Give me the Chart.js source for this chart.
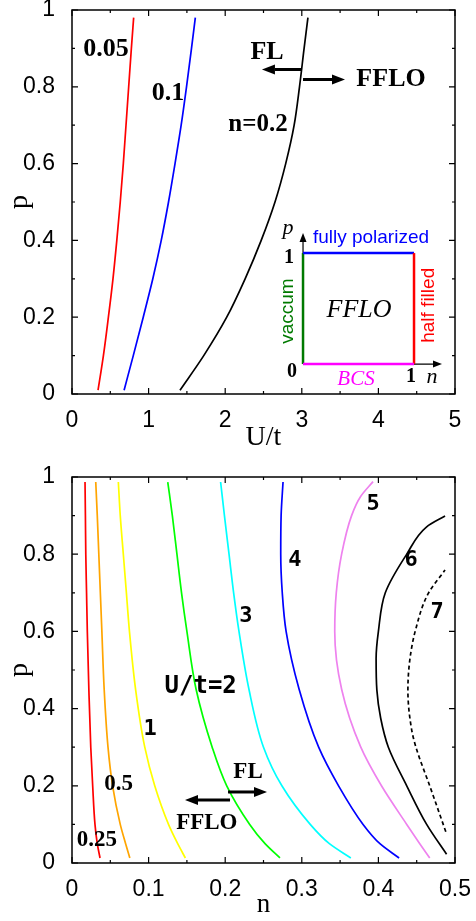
<!DOCTYPE html>
<html lang="en">
<head>
<meta charset="UTF-8">
<title>FFLO phase boundaries</title>
<script src="https://cdn.jsdelivr.net/npm/chart.js@4"></script>
<style>
  html, body { margin: 0; padding: 0; background: #fff; }
  .panel { position: absolute; left: 0; width: 476px; }
</style>
</head>
<body>
<div class="panel" style="top:0;height:460px"><canvas id="topChart" width="476" height="460"></canvas></div>
<div class="panel" style="top:460px;height:461px"><canvas id="bottomChart" width="476" height="461"></canvas></div>
<script>
// ---- top panel: polarization p against U/t at fixed density n ----
const pTop   = [0.01, 0.1, 0.2, 0.3, 0.4, 0.5, 0.6, 0.7, 0.8, 0.9, 0.98];
const uN005  = [0.34, 0.41, 0.475, 0.535, 0.585, 0.63, 0.67, 0.705, 0.74, 0.775, 0.805];
const uN01   = [0.68, 0.80, 0.93, 1.055, 1.165, 1.26, 1.345, 1.425, 1.495, 1.56, 1.61];
const uN02   = [1.41, 1.72, 2.02, 2.26, 2.47, 2.65, 2.79, 2.90, 2.97, 3.03, 3.08];
const topXLabels = ['0', '1', '2', '3', '4', '5'];

// ---- bottom panel: p against n at fixed U/t ----
const pBottom = [0.013, 0.05, 0.1, 0.2, 0.3, 0.45, 0.6, 0.7, 0.8, 0.9, 0.987];
const nU025 = [0.0366, 0.033, 0.030, 0.027, 0.0245, 0.022, 0.020, 0.019, 0.018, 0.0175, 0.017];
const nU05  = [0.0755, 0.070, 0.063, 0.053, 0.047, 0.042, 0.039, 0.037, 0.035, 0.033, 0.031];
const nU1   = [0.148, 0.138, 0.126, 0.108, 0.095, 0.083, 0.075, 0.071, 0.067, 0.063, 0.0605];
const nU2   = [0.2715, 0.252, 0.232, 0.202, 0.183, 0.162, 0.150, 0.143, 0.137, 0.131, 0.125];
const nU3   = [0.364, 0.336, 0.311, 0.274, 0.250, 0.231, 0.218, 0.211, 0.205, 0.199, 0.194];
const nU4   = [0.427, 0.402, 0.380, 0.348, 0.322, 0.2965, 0.2795, 0.2745, 0.2725, 0.273, 0.2755];
const pU5   = [0.013, 0.05, 0.1, 0.2, 0.3, 0.45, 0.6, 0.7, 0.8, 0.9, 0.95, 0.988];
const nU5   = [0.467, 0.454, 0.437, 0.404, 0.377, 0.352, 0.343, 0.345, 0.352, 0.365, 0.377, 0.393];
const pU6   = [0.0225, 0.1, 0.2, 0.3, 0.375, 0.448, 0.53, 0.6, 0.7, 0.8, 0.871, 0.899];
const nU6   = [0.489, 0.463, 0.437, 0.413, 0.403, 0.398, 0.397, 0.400, 0.409, 0.437, 0.463, 0.487];
const pU7   = [0.081, 0.2, 0.3, 0.35, 0.448, 0.526, 0.6, 0.698, 0.759];
const nU7   = [0.488, 0.467, 0.449, 0.443, 0.4385, 0.441, 0.448, 0.465, 0.487];
const bottomXLabels = ['0', '0.1', '0.2', '0.3', '0.4', '0.5'];
const yLabels = ['0', '0.2', '0.4', '0.6', '0.8', '1'];

const tickFont = { family: '"Liberation Sans", Arial, sans-serif', size: 23 };
const SERIF = '"Liberation Serif", "Times New Roman", serif';
const SANS = '"Liberation Sans", Arial, sans-serif';
const MONO = '"DejaVu Sans Mono", monospace';

// every curve is ordered by increasing p, so p is used as the index axis
function series(xs, ys, color, dash) {
  return {
    data: xs.map((v, i) => ({ x: v, y: ys[i] })),
    borderColor: color,
    borderWidth: 1.7,
    borderDash: dash || [],
    pointRadius: 0,
    showLine: true,
    fill: false,
    cubicInterpolationMode: 'monotone'
  };
}

// pin the axis box sizes so the plot area lands where the original has it
function fixSize(prop, px) {
  return function (scale) {
    scale[prop] = px;
    scale.paddingLeft = scale.paddingRight = scale.paddingTop = scale.paddingBottom = 0;
  };
}

function arrow(ctx, x1, y1, x2, y2, lw, head, half) {
  const ang = Math.atan2(y2 - y1, x2 - x1);
  const bx = x2 - head * Math.cos(ang), by = y2 - head * Math.sin(ang);
  ctx.lineWidth = lw;
  ctx.beginPath(); ctx.moveTo(x1, y1); ctx.lineTo(bx, by); ctx.stroke();
  ctx.beginPath();
  ctx.moveTo(x2, y2);
  ctx.lineTo(bx + half * Math.sin(ang), by - half * Math.cos(ang));
  ctx.lineTo(bx - half * Math.sin(ang), by + half * Math.cos(ang));
  ctx.closePath(); ctx.fill();
}

// frame, inward ticks, text labels, arrows and the small inset
const notesPlugin = {
  id: 'notes',
  afterDatasetsDraw(chart, args, opts) {
    const { ctx, chartArea: a, scales: { x, y } } = chart;
    const px = v => x.getPixelForValue(v), py = v => y.getPixelForValue(v);
    ctx.save();
    ctx.strokeStyle = '#000'; ctx.fillStyle = '#000'; ctx.lineWidth = 1.5;
    ctx.strokeRect(a.left, a.top, a.right - a.left, a.bottom - a.top);

    ctx.lineWidth = 1.2;
    ctx.beginPath();
    for (let i = 0; i <= opts.xMinorCount; i++) {
      const v = x.min + (x.max - x.min) * i / opts.xMinorCount;
      const len = i % 2 === 0 ? 6 : 3;
      ctx.moveTo(px(v), a.bottom); ctx.lineTo(px(v), a.bottom - len);
      ctx.moveTo(px(v), a.top); ctx.lineTo(px(v), a.top + len);
    }
    for (let i = 0; i <= 10; i++) {
      const v = i / 10;
      const len = i % 2 === 0 ? 6 : 3;
      ctx.moveTo(a.left, py(v)); ctx.lineTo(a.left + len, py(v));
      ctx.moveTo(a.right, py(v)); ctx.lineTo(a.right - len, py(v));
    }
    ctx.stroke();

    (opts.arrows || []).forEach(ar => {
      ctx.strokeStyle = '#000'; ctx.fillStyle = '#000';
      arrow(ctx, px(ar.from[0]), py(ar.from[1]), px(ar.to[0]), py(ar.to[1]), 3, 13, 5);
    });

    if (opts.inset) {
      const s = opts.inset;
      const x0 = px(s.origin[0]), y0 = py(s.origin[1]);
      const x1 = px(s.corner[0]), y1 = py(s.corner[1]);
      ctx.strokeStyle = '#000'; ctx.fillStyle = '#000';
      arrow(ctx, x0, y0, x0, py(s.pTip), 1.2, 9, 3.5);
      arrow(ctx, x0, y0, px(s.nTip), y0, 1.2, 9, 3.5);
      ctx.lineWidth = 2.5;
      const side = (c, ax, ay, bx, by) => {
        ctx.strokeStyle = c; ctx.beginPath(); ctx.moveTo(ax, ay); ctx.lineTo(bx, by); ctx.stroke();
      };
      side('#007a00', x0, y0, x0, y1);
      side('#0000ff', x0, y1, x1, y1);
      side('#ff0000', x1, y1, x1, y0);
      side('#ff00ff', x0, y0, x1, y0);
    }

    ctx.textAlign = 'center'; ctx.textBaseline = 'middle';
    (opts.texts || []).forEach(t => {
      ctx.save();
      ctx.translate(px(t.at[0]), py(t.at[1]));
      if (t.rot) ctx.rotate(t.rot);
      ctx.font = t.font; ctx.fillStyle = t.color || '#000';
      ctx.fillText(t.text, 0, 0);
      ctx.restore();
    });
    ctx.restore();
  }
};

function makeChart(id, datasets, cfg) {
  return new Chart(document.getElementById(id), {
    type: 'scatter',
    data: { datasets },
    plugins: [notesPlugin],
    options: {
      indexAxis: 'y',
      responsive: false,
      animation: false,
      events: [],
      layout: { autoPadding: false, padding: { left: 0, right: 21, top: cfg.top, bottom: 0 } },
      plugins: { legend: { display: false }, tooltip: { enabled: false }, notes: cfg.notes },
      scales: {
        x: {
          type: 'linear', position: 'bottom', min: 0, max: cfg.xMax,
          afterFit: fixSize('height', cfg.xHeight),
          grid: { display: false, drawTicks: false },
          border: { display: false },
          ticks: {
            stepSize: cfg.xMax / 5, padding: 13, color: '#000', font: tickFont,
            maxRotation: 0, autoSkip: false, callback: (v, i) => cfg.xLabels[i]
          },
          title: {
            display: true, text: cfg.xTitle, color: '#000',
            font: { family: SERIF, size: cfg.xTitleSize }, padding: { top: 0, bottom: cfg.xTitlePad }
          }
        },
        y: {
          type: 'linear', position: 'left', min: 0, max: 1,
          afterFit: fixSize('width', 72),
          grid: { display: false, drawTicks: false },
          border: { display: false },
          ticks: {
            stepSize: 0.2, padding: 17, color: '#000', font: tickFont,
            autoSkip: false, callback: (v, i) => yLabels[i]
          },
          title: {
            display: true, text: 'p', color: '#000',
            font: { family: SERIF, size: 28 }, padding: { top: 3, bottom: 0 }
          }
        }
      }
    }
  });
}

makeChart('topChart', [
  series(uN005, pTop, '#ff0000'),
  series(uN01, pTop, '#0000ff'),
  series(uN02, pTop, '#000000')
], {
  top: 10, xMax: 5, xHeight: 66, xLabels: topXLabels,
  xTitle: 'U/t', xTitleSize: 28, xTitlePad: 6,
  notes: {
    xMinorCount: 10,
    texts: [
      { text: '0.05', at: [0.444, 0.897], font: 'bold 26px ' + SERIF },
      { text: '0.1', at: [1.253, 0.783], font: 'bold 26px ' + SERIF },
      { text: 'n=0.2', at: [2.428, 0.702], font: 'bold 25px ' + SERIF },
      { text: 'FL', at: [2.546, 0.889], font: 'bold 26px ' + SERIF },
      { text: 'FFLO', at: [4.165, 0.819], font: 'bold 26px ' + SERIF },
      { text: 'p', at: [2.82, 0.432], font: 'italic 22px ' + SERIF },
      { text: 'fully polarized', at: [3.903, 0.406], font: '19px ' + SANS, color: '#0000ff' },
      { text: '1', at: [2.833, 0.354], font: 'bold 20px ' + SERIF },
      { text: '0', at: [2.872, 0.057], font: 'bold 20px ' + SERIF },
      { text: '1', at: [4.426, 0.044], font: 'bold 20px ' + SERIF },
      { text: 'n', at: [4.70, 0.044], font: 'italic 22px ' + SERIF },
      { text: 'vaccum', at: [2.82, 0.216], font: '19px ' + SANS, color: '#007a00', rot: -Math.PI / 2 },
      { text: 'half filled', at: [4.661, 0.231], font: '19px ' + SANS, color: '#ff0000', rot: -Math.PI / 2 },
      { text: 'FFLO', at: [3.747, 0.218], font: 'italic 26px ' + SERIF },
      { text: 'BCS', at: [3.708, 0.039], font: 'italic 21px ' + SERIF, color: '#ff00ff' }
    ],
    arrows: [
      { from: [3.003, 0.845], to: [2.48, 0.845] },
      { from: [3.016, 0.819], to: [3.564, 0.819] }
    ],
    inset: { origin: [3.016, 0.078], corner: [4.465, 0.367], pTip: 0.419, nTip: 4.83 }
  }
});

makeChart('bottomChart', [
  series(nU025, pBottom, '#ff0000'),
  series(nU05, pBottom, '#ffa500'),
  series(nU1, pBottom, '#ffff00'),
  series(nU2, pBottom, '#00ff00'),
  series(nU3, pBottom, '#00ffff'),
  series(nU4, pBottom, '#0000ff'),
  series(nU5, pU5, '#ee82ee'),
  series(nU6, pU6, '#000000'),
  series(nU7, pU7, '#000000', [4, 3])
], {
  top: 17, xMax: 0.5, xHeight: 58, xLabels: bottomXLabels,
  xTitle: 'n', xTitleSize: 27, xTitlePad: 0,
  notes: {
    xMinorCount: 10,
    texts: [
      { text: '5', at: [0.393, 0.930], font: 'bold 22px ' + MONO },
      { text: '6', at: [0.4426, 0.785], font: 'bold 22px ' + MONO },
      { text: '7', at: [0.4765, 0.650], font: 'bold 22px ' + MONO },
      { text: '4', at: [0.291, 0.785], font: 'bold 22px ' + MONO },
      { text: '3', at: [0.227, 0.640], font: 'bold 22px ' + MONO },
      { text: 'U/t=2', at: [0.168, 0.456], font: 'bold 24px ' + MONO },
      { text: '1', at: [0.102, 0.347], font: 'bold 22px ' + MONO },
      { text: '0.5', at: [0.061, 0.205], font: 'bold 23px ' + SERIF },
      { text: '0.25', at: [0.0326, 0.060], font: 'bold 23px ' + SERIF },
      { text: 'FL', at: [0.2298, 0.236], font: 'bold 23px ' + SERIF },
      { text: 'FFLO', at: [0.176, 0.104], font: 'bold 23px ' + SERIF }
    ],
    arrows: [
      { from: [0.2037, 0.184], to: [0.2546, 0.184] },
      { from: [0.2063, 0.163], to: [0.1475, 0.163] }
    ]
  }
});
</script>
</body>
</html>
